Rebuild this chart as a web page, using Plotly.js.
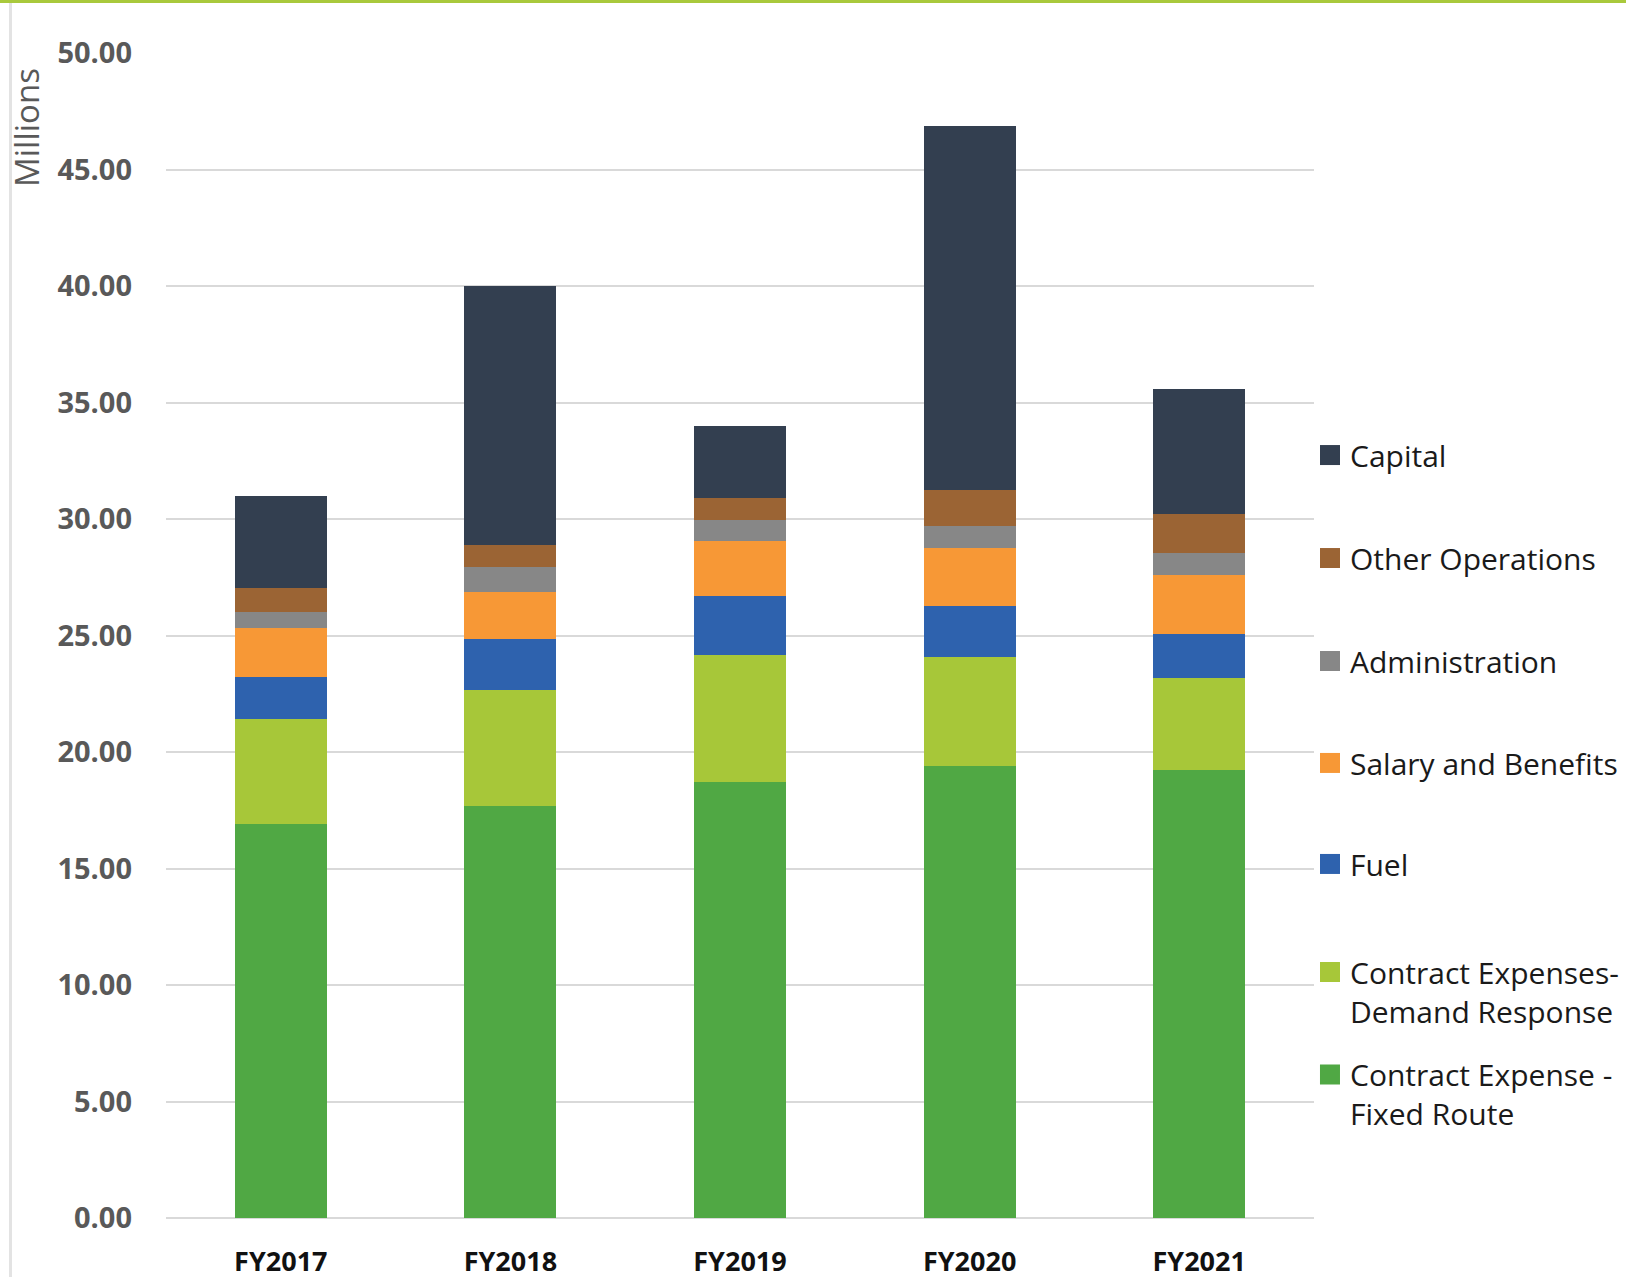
<!DOCTYPE html>
<html>
<head>
<meta charset="utf-8">
<script src="https://cdn.plot.ly/plotly-3.0.1.min.js"></script>
<style>
  html, body { margin: 0; padding: 0; background: #ffffff; }
  #wrap { position: relative; width: 1632px; height: 1277px; overflow: hidden; }
  #chart { width: 1632px; height: 1277px; }
  #topbar { position: absolute; left: 0; top: 0; width: 1626px; height: 3px; background: #A9C93C; pointer-events: none; }
  #leftline { position: absolute; left: 9px; top: 3px; width: 3px; height: 1274px; background: #e3e3e3; pointer-events: none; }
</style>
</head>
<body>
<div id="wrap">
  <div id="chart"></div>
  <div id="topbar"></div>
  <div id="leftline"></div>
</div>
<script>
// Categories
const years = ["FY2017", "FY2018", "FY2019", "FY2020", "FY2021"];

// Series values (millions), bottom to top of each stack
const fixedRoute     = [16.89, 17.69, 18.72, 19.39, 19.22];
const demandResponse = [4.52, 4.95, 5.44, 4.70, 3.97];
const fuel           = [1.79, 2.19, 2.53, 2.19, 1.87];
const salary         = [2.11, 2.02, 2.37, 2.46, 2.52];
const administration = [0.71, 1.08, 0.90, 0.96, 0.97];
const otherOps       = [1.00, 0.95, 0.96, 1.55, 1.65];
const capital        = [3.97, 11.12, 3.07, 15.63, 5.37];

// Series names
const seriesNames = [
  "Contract Expense -<br>Fixed Route",
  "Contract Expenses-<br>Demand Response",
  "Fuel",
  "Salary and Benefits",
  "Administration",
  "Other Operations",
  "Capital"
];
const seriesValues = [fixedRoute, demandResponse, fuel, salary, administration, otherOps, capital];
const seriesColors = ["#50A844", "#A7C739", "#2E62AE", "#F79836", "#878787", "#9B6434", "#333F50"];

// Y ticks
const yTickVals = [0, 5, 10, 15, 20, 25, 30, 35, 40, 45, 50];
const yTickText = ["0.00", "5.00", "10.00", "15.00", "20.00", "25.00", "30.00", "35.00", "40.00", "45.00", "50.00"];

// legend vertical positions (paper) for each series, same order as series
const legendY = [0.1064, 0.1944, 0.3039, 0.3906, 0.4781, 0.5665, 0.6549];
const legendIds = ["legend", "legend2", "legend3", "legend4", "legend5", "legend6", "legend7"];

const traces = seriesValues.map((vals, i) => ({
  type: "bar",
  x: years,
  y: vals,
  name: seriesNames[i],
  marker: { color: seriesColors[i], line: { width: 0 } },
  legend: legendIds[i],
  hoverinfo: "x+y+name"
}));

const legendFont = { family: "Open Sans, sans-serif", size: 30, color: "#1a1a1a" };

const layout = {
  width: 1632,
  height: 1277,
  margin: { l: 166, r: 318, t: 53, b: 59, pad: 0, autoexpand: false },
  paper_bgcolor: "#ffffff",
  plot_bgcolor: "#ffffff",
  barmode: "stack",
  bargap: 0.6,
  showlegend: true,
  xaxis: {
    type: "category",
    showgrid: false,
    zeroline: false,
    showline: false,
    ticks: "",
    ticklabelstandoff: 25,
    tickfont: { family: "Open Sans, sans-serif", size: 27, color: "#111111", weight: "bold" }
  },
  yaxis: {
    range: [0, 50],
    tickvals: yTickVals,
    ticktext: yTickText,
    showgrid: true,
    gridcolor: "#d9d9d9",
    gridwidth: 2,
    zeroline: true,
    zerolinecolor: "#d9d9d9",
    zerolinewidth: 2,
    showline: false,
    ticks: "",
    ticklabelstandoff: 33,
    tickfont: { family: "Open Sans, sans-serif", size: 29, color: "#595959", weight: "bold" }
  },
  annotations: [{
    text: "Millions",
    xref: "paper", yref: "paper",
    x: -0.1211, y: 0.9365,
    xanchor: "center", yanchor: "middle",
    textangle: -90,
    showarrow: false,
    font: { family: "Open Sans, sans-serif", size: 33, color: "#595959" }
  }]
};

legendIds.forEach((id, i) => {
  layout[id] = {
    x: 0.9965,
    xanchor: "left",
    y: legendY[i],
    yanchor: "middle",
    valign: "top",
    bgcolor: "rgba(0,0,0,0)",
    borderwidth: 0,
    font: legendFont
  };
});

Plotly.newPlot("chart", traces, layout, { displayModeBar: false, staticPlot: true }).then(gd => {
  // enlarge legend swatches to match the reference's 20px squares
  gd.querySelectorAll(".legendpoints path").forEach(p => {
    p.setAttribute("d", "M10,10H-10V-10H10Z");
  });
});
</script>
</body>
</html>
